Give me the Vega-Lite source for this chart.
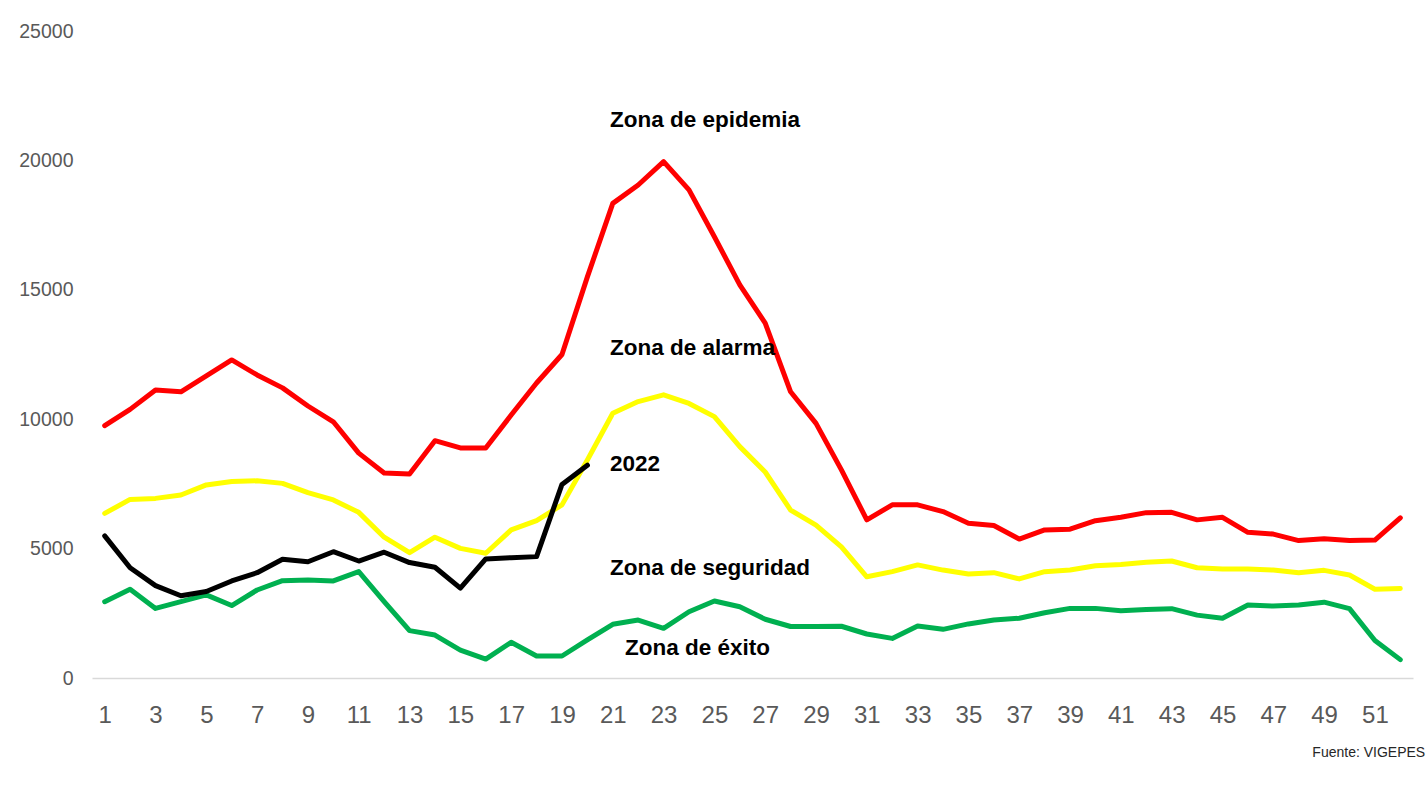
{
  "$schema": "https://vega.github.io/schema/vega-lite/v6.json",
  "width": 1321,
  "height": 647,
  "autosize": {"type": "none"},
  "padding": {"left": 92, "top": 31, "right": 15, "bottom": 126},
  "background": "white",
  "config": {"view": {"stroke": null}, "font": "Liberation Sans"},
  "data": {
    "values": [
      {"semana": 1, "epidemia": 9750, "alarma": 6360, "seguridad": 2950, "y2022": 5490},
      {"semana": 2, "epidemia": 10380, "alarma": 6900, "seguridad": 3430, "y2022": 4260},
      {"semana": 3, "epidemia": 11130, "alarma": 6940, "seguridad": 2690, "y2022": 3570},
      {"semana": 4, "epidemia": 11060, "alarma": 7070, "seguridad": 2950, "y2022": 3180},
      {"semana": 5, "epidemia": 11670, "alarma": 7460, "seguridad": 3210, "y2022": 3340},
      {"semana": 6, "epidemia": 12290, "alarma": 7590, "seguridad": 2800, "y2022": 3750},
      {"semana": 7, "epidemia": 11710, "alarma": 7620, "seguridad": 3400, "y2022": 4070},
      {"semana": 8, "epidemia": 11210, "alarma": 7520, "seguridad": 3760, "y2022": 4590},
      {"semana": 9, "epidemia": 10510, "alarma": 7160, "seguridad": 3790, "y2022": 4490},
      {"semana": 10, "epidemia": 9900, "alarma": 6880, "seguridad": 3750, "y2022": 4880},
      {"semana": 11, "epidemia": 8690, "alarma": 6400, "seguridad": 4110, "y2022": 4520},
      {"semana": 12, "epidemia": 7920, "alarma": 5440, "seguridad": 2950, "y2022": 4860},
      {"semana": 13, "epidemia": 7880, "alarma": 4840, "seguridad": 1830, "y2022": 4460},
      {"semana": 14, "epidemia": 9170, "alarma": 5440, "seguridad": 1660, "y2022": 4280},
      {"semana": 15, "epidemia": 8890, "alarma": 5010, "seguridad": 1080, "y2022": 3470},
      {"semana": 16, "epidemia": 8890, "alarma": 4820, "seguridad": 730, "y2022": 4600},
      {"semana": 17, "epidemia": 10160, "alarma": 5720, "seguridad": 1380, "y2022": 4650},
      {"semana": 18, "epidemia": 11400, "alarma": 6080, "seguridad": 850, "y2022": 4690},
      {"semana": 19, "epidemia": 12500, "alarma": 6690, "seguridad": 850, "y2022": 7480},
      {"semana": 20, "epidemia": 15500, "alarma": 8420, "seguridad": 1470, "y2022": 8220},
      {"semana": 21, "epidemia": 18340, "alarma": 10230, "seguridad": 2075},
      {"semana": 22, "epidemia": 19050, "alarma": 10680, "seguridad": 2240},
      {"semana": 23, "epidemia": 19950, "alarma": 10940, "seguridad": 1920},
      {"semana": 24, "epidemia": 18860, "alarma": 10610, "seguridad": 2560},
      {"semana": 25, "epidemia": 17050, "alarma": 10100, "seguridad": 2975},
      {"semana": 26, "epidemia": 15190, "alarma": 8940, "seguridad": 2755},
      {"semana": 27, "epidemia": 13710, "alarma": 7960, "seguridad": 2270},
      {"semana": 28, "epidemia": 11060, "alarma": 6490, "seguridad": 1990},
      {"semana": 29, "epidemia": 9840, "alarma": 5910, "seguridad": 1990},
      {"semana": 30, "epidemia": 8040, "alarma": 5070, "seguridad": 2000},
      {"semana": 31, "epidemia": 6110, "alarma": 3910, "seguridad": 1700},
      {"semana": 32, "epidemia": 6690, "alarma": 4110, "seguridad": 1530},
      {"semana": 33, "epidemia": 6690, "alarma": 4370, "seguridad": 2010},
      {"semana": 34, "epidemia": 6430, "alarma": 4170, "seguridad": 1880},
      {"semana": 35, "epidemia": 5980, "alarma": 4020, "seguridad": 2090},
      {"semana": 36, "epidemia": 5890, "alarma": 4070, "seguridad": 2240},
      {"semana": 37, "epidemia": 5370, "alarma": 3830, "seguridad": 2310},
      {"semana": 38, "epidemia": 5720, "alarma": 4110, "seguridad": 2520},
      {"semana": 39, "epidemia": 5750, "alarma": 4170, "seguridad": 2690},
      {"semana": 40, "epidemia": 6080, "alarma": 4340, "seguridad": 2690},
      {"semana": 41, "epidemia": 6210, "alarma": 4390, "seguridad": 2600},
      {"semana": 42, "epidemia": 6390, "alarma": 4470, "seguridad": 2650},
      {"semana": 43, "epidemia": 6400, "alarma": 4520, "seguridad": 2680},
      {"semana": 44, "epidemia": 6110, "alarma": 4260, "seguridad": 2430},
      {"semana": 45, "epidemia": 6210, "alarma": 4210, "seguridad": 2310},
      {"semana": 46, "epidemia": 5630, "alarma": 4210, "seguridad": 2820},
      {"semana": 47, "epidemia": 5560, "alarma": 4170, "seguridad": 2780},
      {"semana": 48, "epidemia": 5310, "alarma": 4070, "seguridad": 2820},
      {"semana": 49, "epidemia": 5380, "alarma": 4160, "seguridad": 2930},
      {"semana": 50, "epidemia": 5310, "alarma": 3980, "seguridad": 2680},
      {"semana": 51, "epidemia": 5330, "alarma": 3430, "seguridad": 1450},
      {"semana": 52, "epidemia": 6190, "alarma": 3460, "seguridad": 710}
    ]
  },
  "layer": [
    {
      "transform": [
        {"fold": ["epidemia", "alarma", "seguridad", "y2022"], "as": ["serie", "valor"]},
        {"filter": "datum.valor != null"}
      ],
      "mark": {"type": "line", "strokeWidth": 5, "strokeCap": "round", "strokeJoin": "round"},
      "encoding": {
        "x": {
          "field": "semana", "type": "quantitative",
          "scale": {"domain": [0.5, 52.5], "nice": false, "zero": false},
          "axis": {
            "values": [1, 3, 5, 7, 9, 11, 13, 15, 17, 19, 21, 23, 25, 27, 29, 31, 33, 35, 37, 39, 41, 43, 45, 47, 49, 51],
            "title": null, "grid": false, "ticks": false, "tickSize": 0,
            "domainColor": "#d9d9d9", "domainWidth": 1.5,
            "labelFontSize": 24, "labelColor": "#595959", "labelPadding": 25,
            "labelFont": "Liberation Sans"
          }
        },
        "y": {
          "field": "valor", "type": "quantitative",
          "scale": {"domain": [0, 25000], "nice": false},
          "axis": {
            "values": [0, 5000, 10000, 15000, 20000, 25000], "format": "d",
            "title": null, "grid": false, "ticks": false, "tickSize": 0, "domain": false,
            "labelFontSize": 19.5, "labelColor": "#595959", "labelPadding": 19,
            "labelFont": "Liberation Sans"
          }
        },
        "color": {
          "field": "serie", "type": "nominal",
          "scale": {"domain": ["epidemia", "alarma", "seguridad", "y2022"], "range": ["#ff0000", "#ffff00", "#00b050", "#000000"]},
          "legend": null
        }
      }
    },
    {
      "data": {"values": [{}]},
      "mark": {"type": "text", "align": "left", "baseline": "alphabetic", "fontSize": 22.5, "fontWeight": "bold", "color": "#000000"},
      "encoding": {"x": {"datum": 20.89, "type": "quantitative"}, "y": {"datum": 21302, "type": "quantitative"}, "text": {"value": "Zona de epidemia"}}
    },
    {
      "data": {"values": [{}]},
      "mark": {"type": "text", "align": "left", "baseline": "alphabetic", "fontSize": 22.5, "fontWeight": "bold", "color": "#000000"},
      "encoding": {"x": {"datum": 20.89, "type": "quantitative"}, "y": {"datum": 12481, "type": "quantitative"}, "text": {"value": "Zona de alarma"}}
    },
    {
      "data": {"values": [{}]},
      "mark": {"type": "text", "align": "left", "baseline": "alphabetic", "fontSize": 22.5, "fontWeight": "bold", "color": "#000000"},
      "encoding": {"x": {"datum": 20.89, "type": "quantitative"}, "y": {"datum": 8010, "type": "quantitative"}, "text": {"value": "2022"}}
    },
    {
      "data": {"values": [{}]},
      "mark": {"type": "text", "align": "left", "baseline": "alphabetic", "fontSize": 22.5, "fontWeight": "bold", "color": "#000000"},
      "encoding": {"x": {"datum": 20.89, "type": "quantitative"}, "y": {"datum": 3980, "type": "quantitative"}, "text": {"value": "Zona de seguridad"}}
    },
    {
      "data": {"values": [{}]},
      "mark": {"type": "text", "align": "left", "baseline": "alphabetic", "fontSize": 22.5, "fontWeight": "bold", "color": "#000000"},
      "encoding": {"x": {"datum": 21.48, "type": "quantitative"}, "y": {"datum": 889, "type": "quantitative"}, "text": {"value": "Zona de éxito"}}
    },
    {
      "data": {"values": [{}]},
      "mark": {"type": "text", "align": "right", "baseline": "alphabetic", "fontSize": 14, "color": "#262626"},
      "encoding": {"x": {"datum": 52.98, "type": "quantitative"}, "y": {"datum": -3041, "type": "quantitative"}, "text": {"value": "Fuente: VIGEPES"}}
    }
  ]
}
